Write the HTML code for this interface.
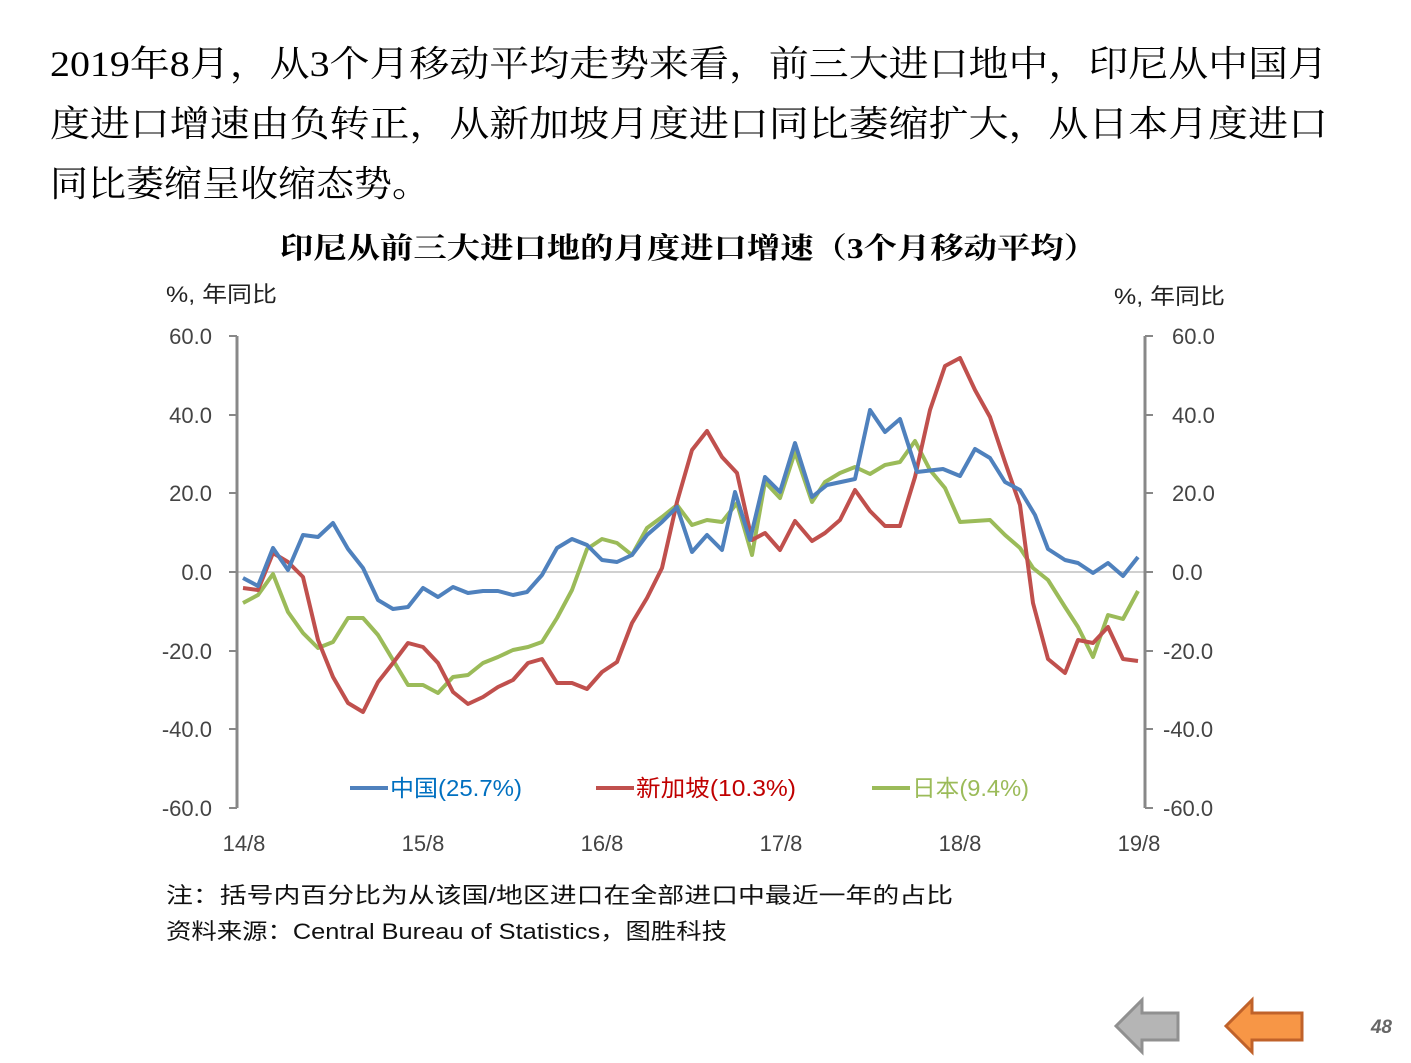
<!DOCTYPE html>
<html><head><meta charset="utf-8"><style>
body{margin:0;background:#fff;}
svg text{font-family:"Liberation Sans","Noto Sans CJK SC",sans-serif;}
</style></head><body>
<svg width="1411" height="1058" viewBox="0 0 1411 1058" xmlns="http://www.w3.org/2000/svg">
<g font-size="36" fill="#000">
<text x="50" y="76" textLength="1278" lengthAdjust="spacingAndGlyphs" style="font-family:'Liberation Serif','Noto Serif CJK SC',serif">2019年8月，从3个月移动平均走势来看，前三大进口地中，印尼从中国月</text>
<text x="50" y="136" textLength="1278" lengthAdjust="spacingAndGlyphs" style="font-family:'Liberation Serif','Noto Serif CJK SC',serif">度进口增速由负转正，从新加坡月度进口同比萎缩扩大，从日本月度进口</text>
<text x="50" y="196" textLength="380" lengthAdjust="spacingAndGlyphs" style="font-family:'Liberation Serif','Noto Serif CJK SC',serif">同比萎缩呈收缩态势。</text>
</g>
<text x="280" y="258" font-size="29" font-weight="bold" textLength="817" lengthAdjust="spacingAndGlyphs" style="font-family:'Liberation Serif','Noto Serif CJK SC',serif">印尼从前三大进口地的月度进口增速（3个月移动平均）</text>
<text x="166" y="302" font-size="22" fill="#222" textLength="111" lengthAdjust="spacingAndGlyphs">%, 年同比</text>
<text x="1114" y="304" font-size="22" fill="#222" textLength="111" lengthAdjust="spacingAndGlyphs">%, 年同比</text>
<line x1="237" y1="572" x2="1145" y2="572" stroke="#d0d0d0" stroke-width="2"/>
<g stroke="#888" stroke-width="3">
<line x1="237" y1="336" x2="237" y2="808"/>
<line x1="1145" y1="336" x2="1145" y2="808"/>
</g>
<g stroke="#888" stroke-width="2">
<line x1="229" y1="336" x2="237" y2="336"/><line x1="229" y1="415" x2="237" y2="415"/><line x1="229" y1="493" x2="237" y2="493"/><line x1="229" y1="572" x2="237" y2="572"/><line x1="229" y1="651" x2="237" y2="651"/><line x1="229" y1="729" x2="237" y2="729"/><line x1="229" y1="808" x2="237" y2="808"/>
<line x1="1145" y1="336" x2="1153" y2="336"/><line x1="1145" y1="415" x2="1153" y2="415"/><line x1="1145" y1="493" x2="1153" y2="493"/><line x1="1145" y1="572" x2="1153" y2="572"/><line x1="1145" y1="651" x2="1153" y2="651"/><line x1="1145" y1="729" x2="1153" y2="729"/><line x1="1145" y1="808" x2="1153" y2="808"/>
</g>
<g font-size="22" fill="#444" text-anchor="end">
<text x="212" y="344">60.0</text><text x="212" y="423">40.0</text><text x="212" y="501">20.0</text><text x="212" y="580">0.0</text><text x="212" y="659">-20.0</text><text x="212" y="737">-40.0</text><text x="212" y="816">-60.0</text>
</g>
<g font-size="22" fill="#444">
<text x="1172" y="344">60.0</text><text x="1172" y="423">40.0</text><text x="1172" y="501">20.0</text><text x="1172" y="580">0.0</text><text x="1163" y="659">-20.0</text><text x="1163" y="737">-40.0</text><text x="1163" y="816">-60.0</text>
</g>
<g font-size="22" fill="#444" text-anchor="middle">
<text x="244" y="851">14/8</text><text x="423" y="851">15/8</text><text x="602" y="851">16/8</text><text x="781" y="851">17/8</text><text x="960" y="851">18/8</text><text x="1139" y="851">19/8</text>
</g>
<g fill="none" stroke-width="4" stroke-linejoin="round">
<polyline stroke="#9bbb59" points="243,603 258,595 273,574 288,612 303,633 318,648 333,642 348,618 363,618 378,635 393,660 408,685 423,685 438,693 453,677 468,675 483,663 498,657 513,650 528,647 542,642 557,618 572,590 587,549 602,539 617,543 632,555 647,528 662,517 677,505 692,525 707,520 722,522 737,503 752,555 765,482 780,498 795,452 812,502 825,482 840,473 855,467 870,474 885,465 900,462 915,441 930,470 945,488 960,522 975,521 990,520 1005,535 1020,548 1033,568 1048,580 1065,607 1078,627 1093,657 1108,615 1123,619 1138,591"/>
<polyline stroke="#c0504d" points="243,588 258,590 273,553 288,562 303,577 318,640 333,677 348,703 363,712 378,682 393,663 408,643 423,647 438,663 453,692 468,704 483,697 498,687 513,680 528,663 542,659 557,683 572,683 587,689 602,672 617,662 632,623 647,598 662,568 677,502 692,450 707,431 722,457 737,473 752,540 765,533 780,550 795,521 812,541 825,533 840,520 855,490 870,511 885,526 900,526 915,477 930,410 945,366 960,358 975,390 990,417 1005,462 1020,505 1033,603 1048,659 1065,673 1078,640 1093,643 1108,627 1123,659 1138,661"/>
<polyline stroke="#4f81bd" points="243,578 258,586 273,548 288,570 303,535 318,537 333,523 348,549 363,568 378,600 393,609 408,607 423,588 438,597 453,587 468,593 483,591 498,591 513,595 527,592 542,575 557,548 572,539 587,545 602,560 617,562 632,555 647,535 662,522 677,507 692,552 707,535 722,550 735,492 750,540 765,477 780,492 795,443 812,497 827,485 855,479 870,410 885,432 900,419 917,472 943,469 960,476 975,449 990,458 1005,482 1020,490 1035,515 1048,549 1065,560 1078,563 1093,573 1108,563 1123,576 1138,557"/>
</g>
<g font-size="23">
<line x1="350" y1="788" x2="388" y2="788" stroke="#4f81bd" stroke-width="4"/>
<text x="390" y="796" fill="#0070c0" textLength="132" lengthAdjust="spacingAndGlyphs">中国(25.7%)</text>
<line x1="596" y1="788" x2="634" y2="788" stroke="#c0504d" stroke-width="4"/>
<text x="636" y="796" fill="#c00000" textLength="160" lengthAdjust="spacingAndGlyphs">新加坡(10.3%)</text>
<line x1="872" y1="788" x2="910" y2="788" stroke="#9bbb59" stroke-width="4"/>
<text x="912" y="796" fill="#9bbb59" textLength="117" lengthAdjust="spacingAndGlyphs">日本(9.4%)</text>
</g>
<text x="166" y="903" font-size="22" fill="#111" textLength="787" lengthAdjust="spacingAndGlyphs">注：括号内百分比为从该国/地区进口在全部进口中最近一年的占比</text>
<text x="166" y="939" font-size="22" fill="#111" textLength="561" lengthAdjust="spacingAndGlyphs">资料来源：Central Bureau of Statistics，图胜科技</text>
<polygon points="1116,1026 1142,1000 1142,1013 1178,1013 1178,1040 1142,1040 1142,1052" fill="#b5b5b5" stroke="#909090" stroke-width="3"/>
<polygon points="1226,1026 1252,1000 1252,1013 1302,1013 1302,1040 1252,1040 1252,1052" fill="#f79646" stroke="#c0622a" stroke-width="3"/>
<text x="1392" y="1033" font-size="19" font-style="italic" font-weight="bold" fill="#666" text-anchor="end">48</text>
</svg>
</body></html>
